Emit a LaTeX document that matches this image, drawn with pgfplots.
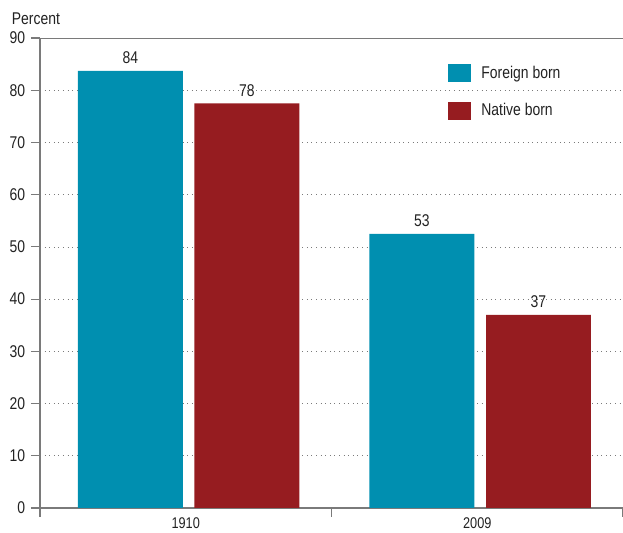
\documentclass[border=0pt]{standalone}
\usepackage{fontspec}
\setmainfont{Liberation Sans}[FakeStretch=0.82]
\usepackage{pgfplots}
\pgfplotsset{compat=1.18}
\definecolor{fb}{HTML}{008FB0}
\definecolor{nb}{HTML}{961C20}
\definecolor{ax}{HTML}{7A7A7A}
\definecolor{txt}{HTML}{222222}
\newcommand{\fs}{\fontsize{17pt}{20pt}\selectfont}
\begin{document}
\fs
\begin{tikzpicture}
\begin{axis}[
  scale only axis, width=583pt, height=470pt,
  xmin=0, xmax=2, ymin=0, ymax=90,
  axis x line*=bottom, axis y line*=left,
  axis line style={ax, line width=1.2pt},
  tick align=outside, major tick length=9pt,
  every tick/.style={ax, line width=1.2pt},
  xtick={0,1,2}, xticklabels={},
  extra x ticks={0.5,1.5}, extra x tick labels={1910,2009},
  extra x tick style={major tick length=0pt, tick label style={yshift=-4pt, font=\fontsize{15.5pt}{18pt}\selectfont}},
  ytick={0,10,...,90},
  ymajorgrids, grid style={ax, line width=0.6pt, dash pattern=on 0.8pt off 3.8pt},
  tick label style={text=txt, font=\fs},
  /pgf/number format/assume math mode=true,
  legend style={draw=none, fill=none, at={(rel axis cs:0.695,0.95)}, anchor=north west,
    row sep=19pt, font=\fs, text=txt,
    /tikz/every odd column/.append style={column sep=8pt}},
  legend cell align=left,
  legend image code/.code={\fill[#1] (0pt,-9pt) rectangle (23pt,9pt);},
  nodes near coords, point meta=explicit symbolic,
  every node near coord/.append style={text=txt, font=\fs, yshift=1pt},
]
\addplot[ybar, bar width=0.36, bar shift=0pt, fill=fb, draw=none] coordinates {(0.31,83.7)[84] (1.31,52.5)[53]};
\addlegendentry{Foreign born}
\addplot[ybar, bar width=0.36, bar shift=0pt, fill=nb, draw=none] coordinates {(0.71,77.5)[78] (1.71,37.0)[37]};
\addlegendentry{Native born}
\draw[ax, line width=0.8pt] (rel axis cs:0,1) -- (rel axis cs:1,1);
\end{axis}
\node[anchor=base west, text=txt] at ([xshift=-34pt,yshift=13pt]current axis.north west) {Percent};
\pgfresetboundingbox
\path ([xshift=-40pt,yshift=-25pt]current axis.south west) rectangle ([yshift=38pt]current axis.north east);
\end{tikzpicture}
\end{document}
